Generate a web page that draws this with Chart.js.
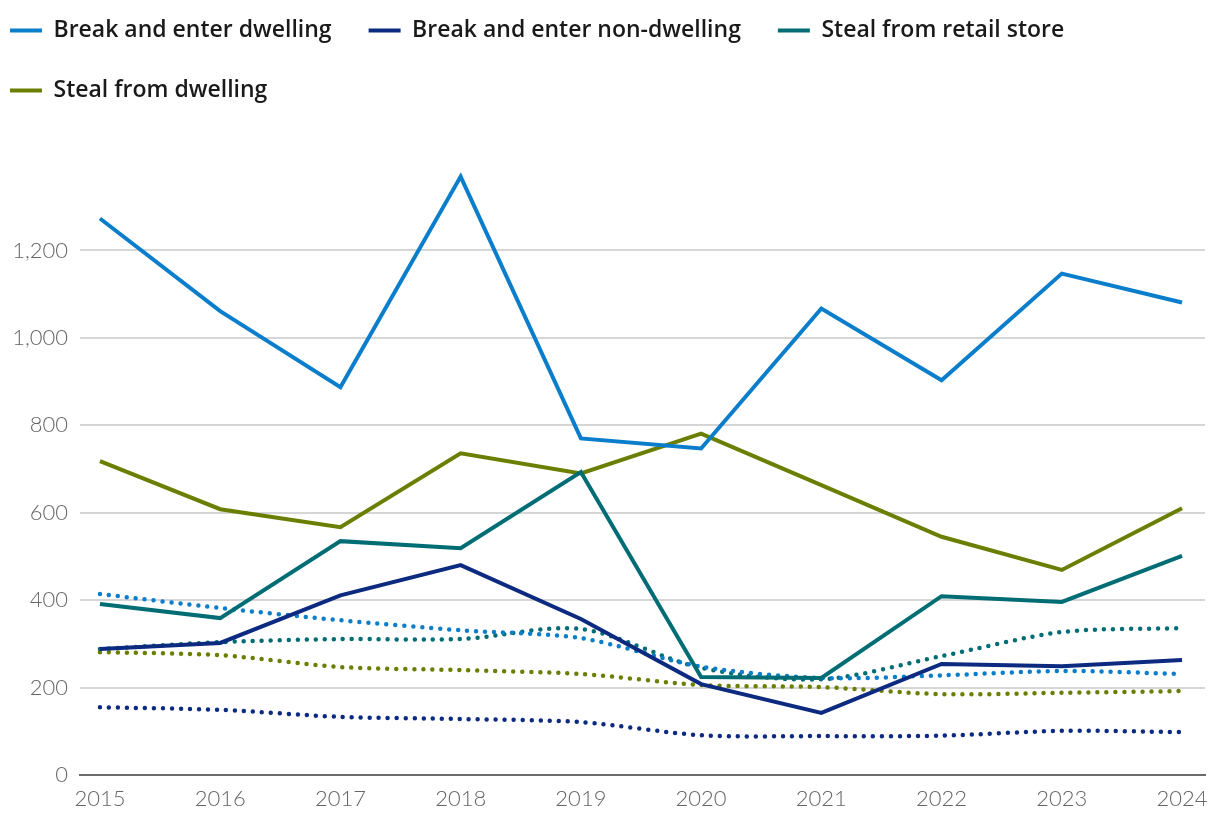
<!DOCTYPE html>
<html lang="en">
<head>
  <meta charset="UTF-8" />
  <title>Break and enter / steal offences</title>
  <script src="https://cdn.jsdelivr.net/npm/chart.js"></script>
  <style>
    body {
      margin: 0;
      padding: 0;
      background: #fff;
    }
    .wrap {
      width: 1220px;
      height: 822px;
      position: relative;
    }
  </style>
</head>
<body>
  <div class="wrap">
    <canvas id="grafico"></canvas>
  </div>

  <script>
    const years = [2015, 2016, 2017, 2018, 2019, 2020, 2021, 2022, 2023, 2024];
    const seriesNames = ["Break and enter dwelling", "Break and enter non-dwelling", "Steal from retail store", "Steal from dwelling"];
    const colours = ["#0a7dcb", "#0b2a80", "#006d74", "#6a7f00"];

    // solid lines
    const beDwelling    = [1273, 1061, 887, 1369, 770, 747, 1067, 903, 1147, 1081];
    const beNonDwelling = [288, 302, 411, 480, 357, 208, 142, 254, 249, 263];
    const retailStore   = [391, 359, 535, 519, 693, 224, 222, 409, 396, 501];
    const stealDwelling = [718, 608, 567, 736, 690, 781, 663, 545, 469, 610];

    // dotted lines (no legend entry)
    const beDwellingDot    = [414, 382, 354, 331, 313, 248, 222, 228, 238, 231];
    const beNonDwellingDot = [155, 149, 133, 128, 121, 91, 89, 90, 101, 98];
    const retailStoreDot   = [288, 304, 311, 311, 334, 245, 219, 272, 327, 336];
    const stealDwellingDot = [281, 274, 247, 240, 231, 206, 201, 185, 188, 192];

    const yTicks = [0, 200, 400, 600, 800, 1000, 1200, 1400];

    const toPoints = vals => vals.map((v, i) => ({ x: years[i], y: v }));

    const solid = [beDwelling, beNonDwelling, retailStore, stealDwelling].map((vals, i) => ({
      label: seriesNames[i],
      data: toPoints(vals),
      borderColor: colours[i],
      backgroundColor: colours[i],
      borderWidth: 4,
      borderJoinStyle: "miter",
      pointRadius: 0,
      tension: 0,
      order: 1
    }));

    const dotted = [beDwellingDot, beNonDwellingDot, retailStoreDot, stealDwellingDot].map((vals, i) => ({
      label: seriesNames[i] + " (dotted)",
      data: toPoints(vals),
      borderColor: colours[i],
      backgroundColor: colours[i],
      borderWidth: 4.5,
      borderDash: [0, 9],
      borderCapStyle: "round",
      pointRadius: 0,
      tension: 0.3,
      order: 2
    }));

    // legend box gets some extra room below so the plot starts lower
    const legendGap = {
      id: "legendGap",
      afterInit(chart) {
        const fit = chart.legend.fit;
        chart.legend.fit = function () {
          fit.call(this);
          this.height += 51;
        };
      }
    };

    new Chart(document.getElementById("grafico"), {
      type: "line",
      data: { datasets: [...solid, ...dotted] },
      options: {
        responsive: true,
        maintainAspectRatio: false,
        animation: false,
        layout: { padding: { left: -27, top: -18, right: 15, bottom: 0 } },
        plugins: {
          tooltip: { enabled: false },
          legend: {
            position: "top",
            align: "start",
            labels: {
              boxWidth: 32,
              boxHeight: 4,
              padding: 37,
              color: "#1a1a1a",
              font: { family: "'Open Sans', sans-serif", size: 23, weight: "600" },
              generateLabels(chart) {
                const items = Chart.defaults.plugins.legend.labels.generateLabels(chart);
                return items
                  .filter(it => it.datasetIndex < 4)
                  .map(it => Object.assign(it, { lineWidth: 0, fillStyle: it.strokeStyle, lineDash: [] }));
              }
            }
          }
        },
        scales: {
          x: {
            type: "linear",
            min: 2014.834,
            max: 2024.191,
            grid: { display: false, drawTicks: false },
            border: { display: true, color: "#6b6b6b", width: 2 },
            ticks: {
              stepSize: 1,
              includeBounds: false,
              padding: 11,
              color: "#666",
              font: { family: "Lato, sans-serif", size: 22, weight: "300" },
              callback: v => String(v)
            },
            afterFit(scale) { scale.height = 47; }
          },
          y: {
            min: 0,
            max: 1400,
            afterBuildTicks(scale) { scale.ticks = yTicks.map(v => ({ value: v })); },
            grid: {
              drawTicks: false,
              lineWidth: 2,
              color: ctx => (ctx.tick && ctx.tick.value === 1400 ? "rgba(0,0,0,0)" : "#d6d6d6")
            },
            border: { display: false },
            ticks: {
              padding: 12,
              color: "#666",
              font: { family: "Lato, sans-serif", size: 22, weight: "300" },
              callback: v => (v === 1400 ? "" : v.toLocaleString("en-US"))
            },
            afterFit(scale) { scale.width = 107; }
          }
        }
      },
      plugins: [legendGap]
    });
  </script>
</body>
</html>
